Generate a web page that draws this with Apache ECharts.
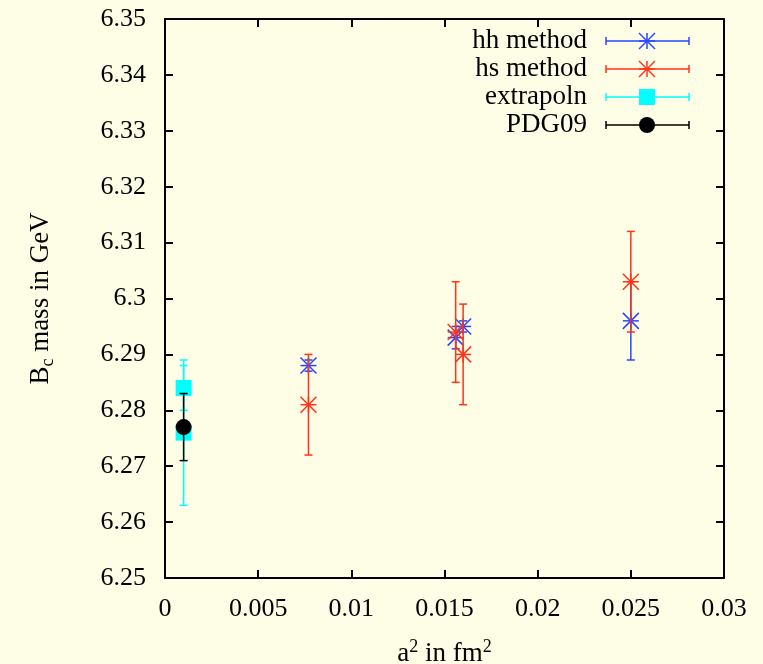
<!DOCTYPE html>
<html><head><meta charset="utf-8">
<script src="https://cdn.jsdelivr.net/npm/echarts@6/dist/echarts.min.js"></script>
<style>html,body{margin:0;padding:0;background:#fefee6;} #c{width:763px;height:664px;}</style>
</head><body><div id="c"></div>
<script>
// ---- data ----
const seriesNames = ['hh method', 'hs method', 'extrapoln', 'PDG09'];
const hhX = [0.0077, 0.0156, 0.016, 0.025];
const hhY = [6.288, 6.293, 6.295, 6.296];
const hhErr = [0.001, 0.002, 0.001, 0.007];
const hsX = [0.0077, 0.0156, 0.016, 0.025];
const hsY = [6.281, 6.294, 6.290, 6.303];
const hsErr = [0.009, 0.009, 0.009, 0.009];
const exX = [0.001, 0.001];
const exY = [6.284, 6.276];
const exErr = [0.004, 0.013];
const pdgX = [0.001];
const pdgY = [6.277];
const pdgErr = [0.006];
const xRange = [0, 0.03, 0.005];
const yRange = [6.25, 6.35, 0.01];
const xTitle = ['a', '2', ' in fm', '2'];
const yTitle = ['B', 'c', ' mass in GeV'];

// ---- styles ----
const FONT = 'Liberation Serif';
const FS = 26;
const colors = ['#2a45ff', '#ff3318', '#00ffff', '#000000'];
const markers = ['star', 'star', 'square', 'circle'];
const LW = 1.5, CAP = 4, MS = 8;

function markerEls(type, cx, cy, color) {
  if (type === 'star') {
    const s = MS;
    const segs = [[0, -s, 0, s], [-s, 0, s, 0], [-s, -s, s, s], [-s, s, s, -s]];
    return segs.map(g => ({type: 'line', shape: {x1: cx + g[0], y1: cy + g[1], x2: cx + g[2], y2: cy + g[3]},
      style: {stroke: color, lineWidth: LW}}));
  }
  if (type === 'square') {
    return [{type: 'rect', shape: {x: cx - MS, y: cy - MS, width: 2 * MS, height: 2 * MS}, style: {fill: color}}];
  }
  return [{type: 'circle', shape: {cx: cx, cy: cy, r: MS}, style: {fill: color}}];
}

function makeData(xs, ys, es) { return xs.map((x, i) => [x, ys[i], es[i]]); }

function makeSeries(idx, data) {
  const color = colors[idx], mk = markers[idx];
  return {
    type: 'custom', name: seriesNames[idx], data: data, clip: false,
    encode: {x: 0, y: 1}, z: 10 + idx,
    renderItem: function (params, api) {
      const x = api.value(0), y = api.value(1), e = api.value(2);
      const p = api.coord([x, y]);
      const t = api.coord([x, y + e]);
      const b = api.coord([x, y - e]);
      const st = {stroke: color, lineWidth: LW};
      const ch = [
        {type: 'line', shape: {x1: p[0], y1: t[1], x2: p[0], y2: b[1]}, style: st},
        {type: 'line', shape: {x1: p[0] - CAP, y1: t[1], x2: p[0] + CAP, y2: t[1]}, style: st},
        {type: 'line', shape: {x1: p[0] - CAP, y1: b[1], x2: p[0] + CAP, y2: b[1]}, style: st}
      ].concat(markerEls(mk, p[0], p[1], color));
      return {type: 'group', children: ch};
    }
  };
}

// legend drawn in gnuplot style
const legendEls = [];
const legX = 587, legL = 606, legR = 689, legM = 647, legY0 = 41, legDY = 28;
seriesNames.forEach((n, i) => {
  const y = legY0 + i * legDY, c = colors[i];
  legendEls.push({type: 'text', x: legX, y: y, style: {text: n, font: '27px "' + FONT + '"', fill: '#000',
    textAlign: 'right', textVerticalAlign: 'middle'}});
  const st = {stroke: c, lineWidth: LW};
  legendEls.push({type: 'line', shape: {x1: legL, y1: y, x2: legR, y2: y}, style: st});
  legendEls.push({type: 'line', shape: {x1: legL, y1: y - CAP, x2: legL, y2: y + CAP}, style: st});
  legendEls.push({type: 'line', shape: {x1: legR, y1: y - CAP, x2: legR, y2: y + CAP}, style: st});
  markerEls(markers[i], legM, y, c).forEach(el => legendEls.push(el));
});

const baseRich = {
  n: {fontFamily: FONT, fontSize: 27, lineHeight: 32, color: '#000', verticalAlign: 'middle'},
  sup: {fontFamily: FONT, fontSize: 18, lineHeight: 18, color: '#000', verticalAlign: 'top'},
  sub: {fontFamily: FONT, fontSize: 18, lineHeight: 18, color: '#000', verticalAlign: 'bottom'}
};

function fmt(v) { return String(+(+v).toFixed(4)); }

const axisCommon = {
  type: 'value', splitLine: {show: false},
  axisLine: {show: true, onZero: false, lineStyle: {color: '#000', width: 2}},
  axisTick: {show: true, inside: true, length: 8, lineStyle: {color: '#000', width: 2}}
};

const chart = echarts.init(document.getElementById('c'));
chart.setOption({
  backgroundColor: '#fefee6',
  animation: false,
  grid: {left: 165, right: 39, top: 19, bottom: 86, show: false, containLabel: false, outerBoundsMode: 'none'},
  xAxis: [
    Object.assign({}, axisCommon, {
      position: 'bottom', min: xRange[0], max: xRange[1], interval: xRange[2],
      axisLabel: {fontFamily: FONT, fontSize: FS, color: '#000', margin: 18, formatter: fmt},
      name: '{n|' + xTitle[0] + '}{sup|' + xTitle[1] + '}{n|' + xTitle[2] + '}{sup|' + xTitle[3] + '}',
      nameLocation: 'middle', nameGap: 60, nameTextStyle: {rich: baseRich}
    }),
    Object.assign({}, axisCommon, {
      position: 'top', min: xRange[0], max: xRange[1], interval: xRange[2], axisLabel: {show: false}
    })
  ],
  yAxis: [
    Object.assign({}, axisCommon, {
      position: 'left', min: yRange[0], max: yRange[1], interval: yRange[2],
      axisLabel: {fontFamily: FONT, fontSize: FS, color: '#000', margin: 19, formatter: fmt},
      name: '{n|' + yTitle[0] + '}{sub|' + yTitle[1] + '}{n|' + yTitle[2] + '}',
      nameLocation: 'middle', nameGap: 108, nameRotate: 90, nameTextStyle: {rich: baseRich}
    }),
    Object.assign({}, axisCommon, {
      position: 'right', min: yRange[0], max: yRange[1], interval: yRange[2], axisLabel: {show: false}
    })
  ],
  series: [
    makeSeries(0, makeData(hhX, hhY, hhErr)),
    makeSeries(1, makeData(hsX, hsY, hsErr)),
    makeSeries(2, makeData(exX, exY, exErr)),
    makeSeries(3, makeData(pdgX, pdgY, pdgErr))
  ],
  graphic: legendEls
});
</script>
</body></html>
